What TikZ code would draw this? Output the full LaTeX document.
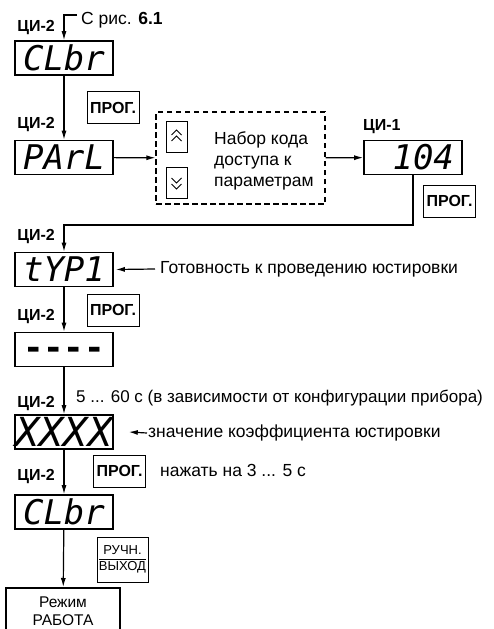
\documentclass[tikz,border=0pt]{standalone}
\usepackage{fontspec}
\setmainfont{Liberation Sans}
\newfontfamily\segfont{DejaVu Sans Mono}
\usetikzlibrary{arrows.meta}
\setlength{\arrayrulewidth}{1pt}

\tikzset{
  disp/.style={draw, line width=1.6pt, minimum width=98pt, minimum height=34pt, inner sep=0pt,
    font=\segfont\itshape\fontsize{34}{34}\selectfont},
  knopka/.style={draw, line width=1pt, minimum width=52pt, minimum height=32pt, inner sep=0pt,
    font=\bfseries\fontsize{16}{18}\selectfont},
  ci/.style={font=\bfseries\fontsize{16}{18}\selectfont, inner sep=0pt, anchor=east},
  txt/.style={font=\fontsize{17.5}{21}\selectfont, inner sep=0pt, anchor=west, align=left},
  strelka/.style={-{Latex[length=9pt,width=5pt]}, line width=1.2pt},
}

\begin{document}
\begin{tikzpicture}[x=1pt, y=-1pt]

		% Parametros de la figura
		\def\xc{64}      % eje de la cadena de indicadores
		\def\W{494}      % ancho
		\def\H{629}      % alto

		\useasboundingbox (0,0) rectangle (\W,\H);
		\clip (0,0) rectangle (\W,\H);

		% --- 1. ENTRADA ---
		\node[txt] (ris) at (81,20) {С рис. \textbf{6.1}};
		\coordinate (start) at (77,15);
		\node[disp] (clbrA) at (\xc,58) {CLbr};
		\draw[strelka] (start) -| (clbrA.north);

		% Etiquetas de los indicadores
		\foreach \y in {28,125,237,317,404,477}
			\node[ci] (ci\y) at (55,\y) {ЦИ-2};

		% --- 2. CODIGO DE ACCESO ---
		\node[knopka] (progA) at (113,107.5) {ПРОГ.};
		\node[disp] (parl) at (\xc,157.5) {PArL};
		\draw[strelka] (clbrA) -- (parl);

		\node[draw, dashed, line width=1.2pt, dash pattern=on 5.5pt off 3.5pt,
			minimum width=169pt, minimum height=92pt] (kod) at (240.5,158) {};
		\node[draw, line width=1pt, minimum width=21pt, minimum height=31pt] (up) at (176.5,136.5) {};
		\node[draw, line width=1pt, minimum width=21pt, minimum height=31pt] (down) at (176.5,182.5) {};
		\draw[line width=1pt] (up.center) ++(-5,-1.5) -- ++(5,-5) -- ++(5,5) ++(-10,6) -- ++(5,-5) -- ++(5,5);
		\draw[line width=1pt] (down.center) ++(-5,-4.5) -- ++(5,5) -- ++(5,-5) ++(-10,6) -- ++(5,5) -- ++(5,-5);
		\node[txt] (nabor) at (214,161) {Набор кода\\доступа к\\параметрам};
		\draw[strelka] (parl) -- (kod);

		\node[ci, anchor=west] (ci1) at (363,127) {ЦИ-1};
		\node[disp] (num) at (413,157.5) {\ 104};
		\draw[strelka] (kod) -- (num);
		\node[knopka] (progB) at (449.5,201) {ПРОГ.};

		% --- 3. AJUSTE ---
		\coordinate (povorot) at (\xc,225);
		\node[disp] (typ) at (\xc,269.5) {tYP1};
		\draw[strelka] (num.south) |- (povorot) -- (typ.north);
		\node[txt] (gotov) at (160,269) {Готовность к проведению юстировки};
		\draw[strelka] ([xshift=-5pt]gotov.west) -- ([xshift=2pt]typ.east);

		\node[knopka] (progC) at (113,310) {ПРОГ.};
		\node[disp, font=\segfont\bfseries\fontsize{34}{34}\selectfont, text height=10pt, text depth=4pt]
			(dash) at (\xc,349.5) {\raisebox{-7pt}{----}};
		\draw[strelka] (typ) -- (dash);

		\node[txt, font=\fontsize{17}{21}\selectfont] (vremya) at (76,398) {5 ... 60 с (в зависимости от конфигурации прибора)};
		\node[disp, font=\segfont\itshape\fontsize{40}{40}\selectfont] (xxxx) at (\xc,432) {XXXX};
		\draw[strelka] (dash) -- (xxxx);
		\node[txt] (znach) at (148,433) {значение коэффициента юстировки};
		\draw[strelka] ([xshift=-1pt]znach.west) -- ([xshift=15pt]xxxx.east);

		% --- 4. SALIDA ---
		\node[knopka] (progD) at (119.5,471) {ПРОГ.};
		\node[txt] (nazhat) at (160,470) {нажать на 3 ... 5 с};
		\node[disp] (clbrB) at (\xc,512) {CLbr};
		\draw[strelka] (xxxx) -- (clbrB);

		\node[knopka, minimum width=51pt, minimum height=45pt, font=\fontsize{13}{15}\selectfont]
			(ruchn) at (122.5,559.5) {\begin{tabular}{@{}c@{}}РУЧН.\\\hline ВЫХОД\end{tabular}};
		\node[draw, line width=1.8pt, minimum width=114pt, minimum height=46pt, anchor=north,
			align=center, font=\fontsize{15.5}{18}\selectfont] (rezhim) at (63,587) {Режим\\РАБОТА};
		\draw[strelka] (clbrB) -- (rezhim);

	\end{tikzpicture}
\end{document}
